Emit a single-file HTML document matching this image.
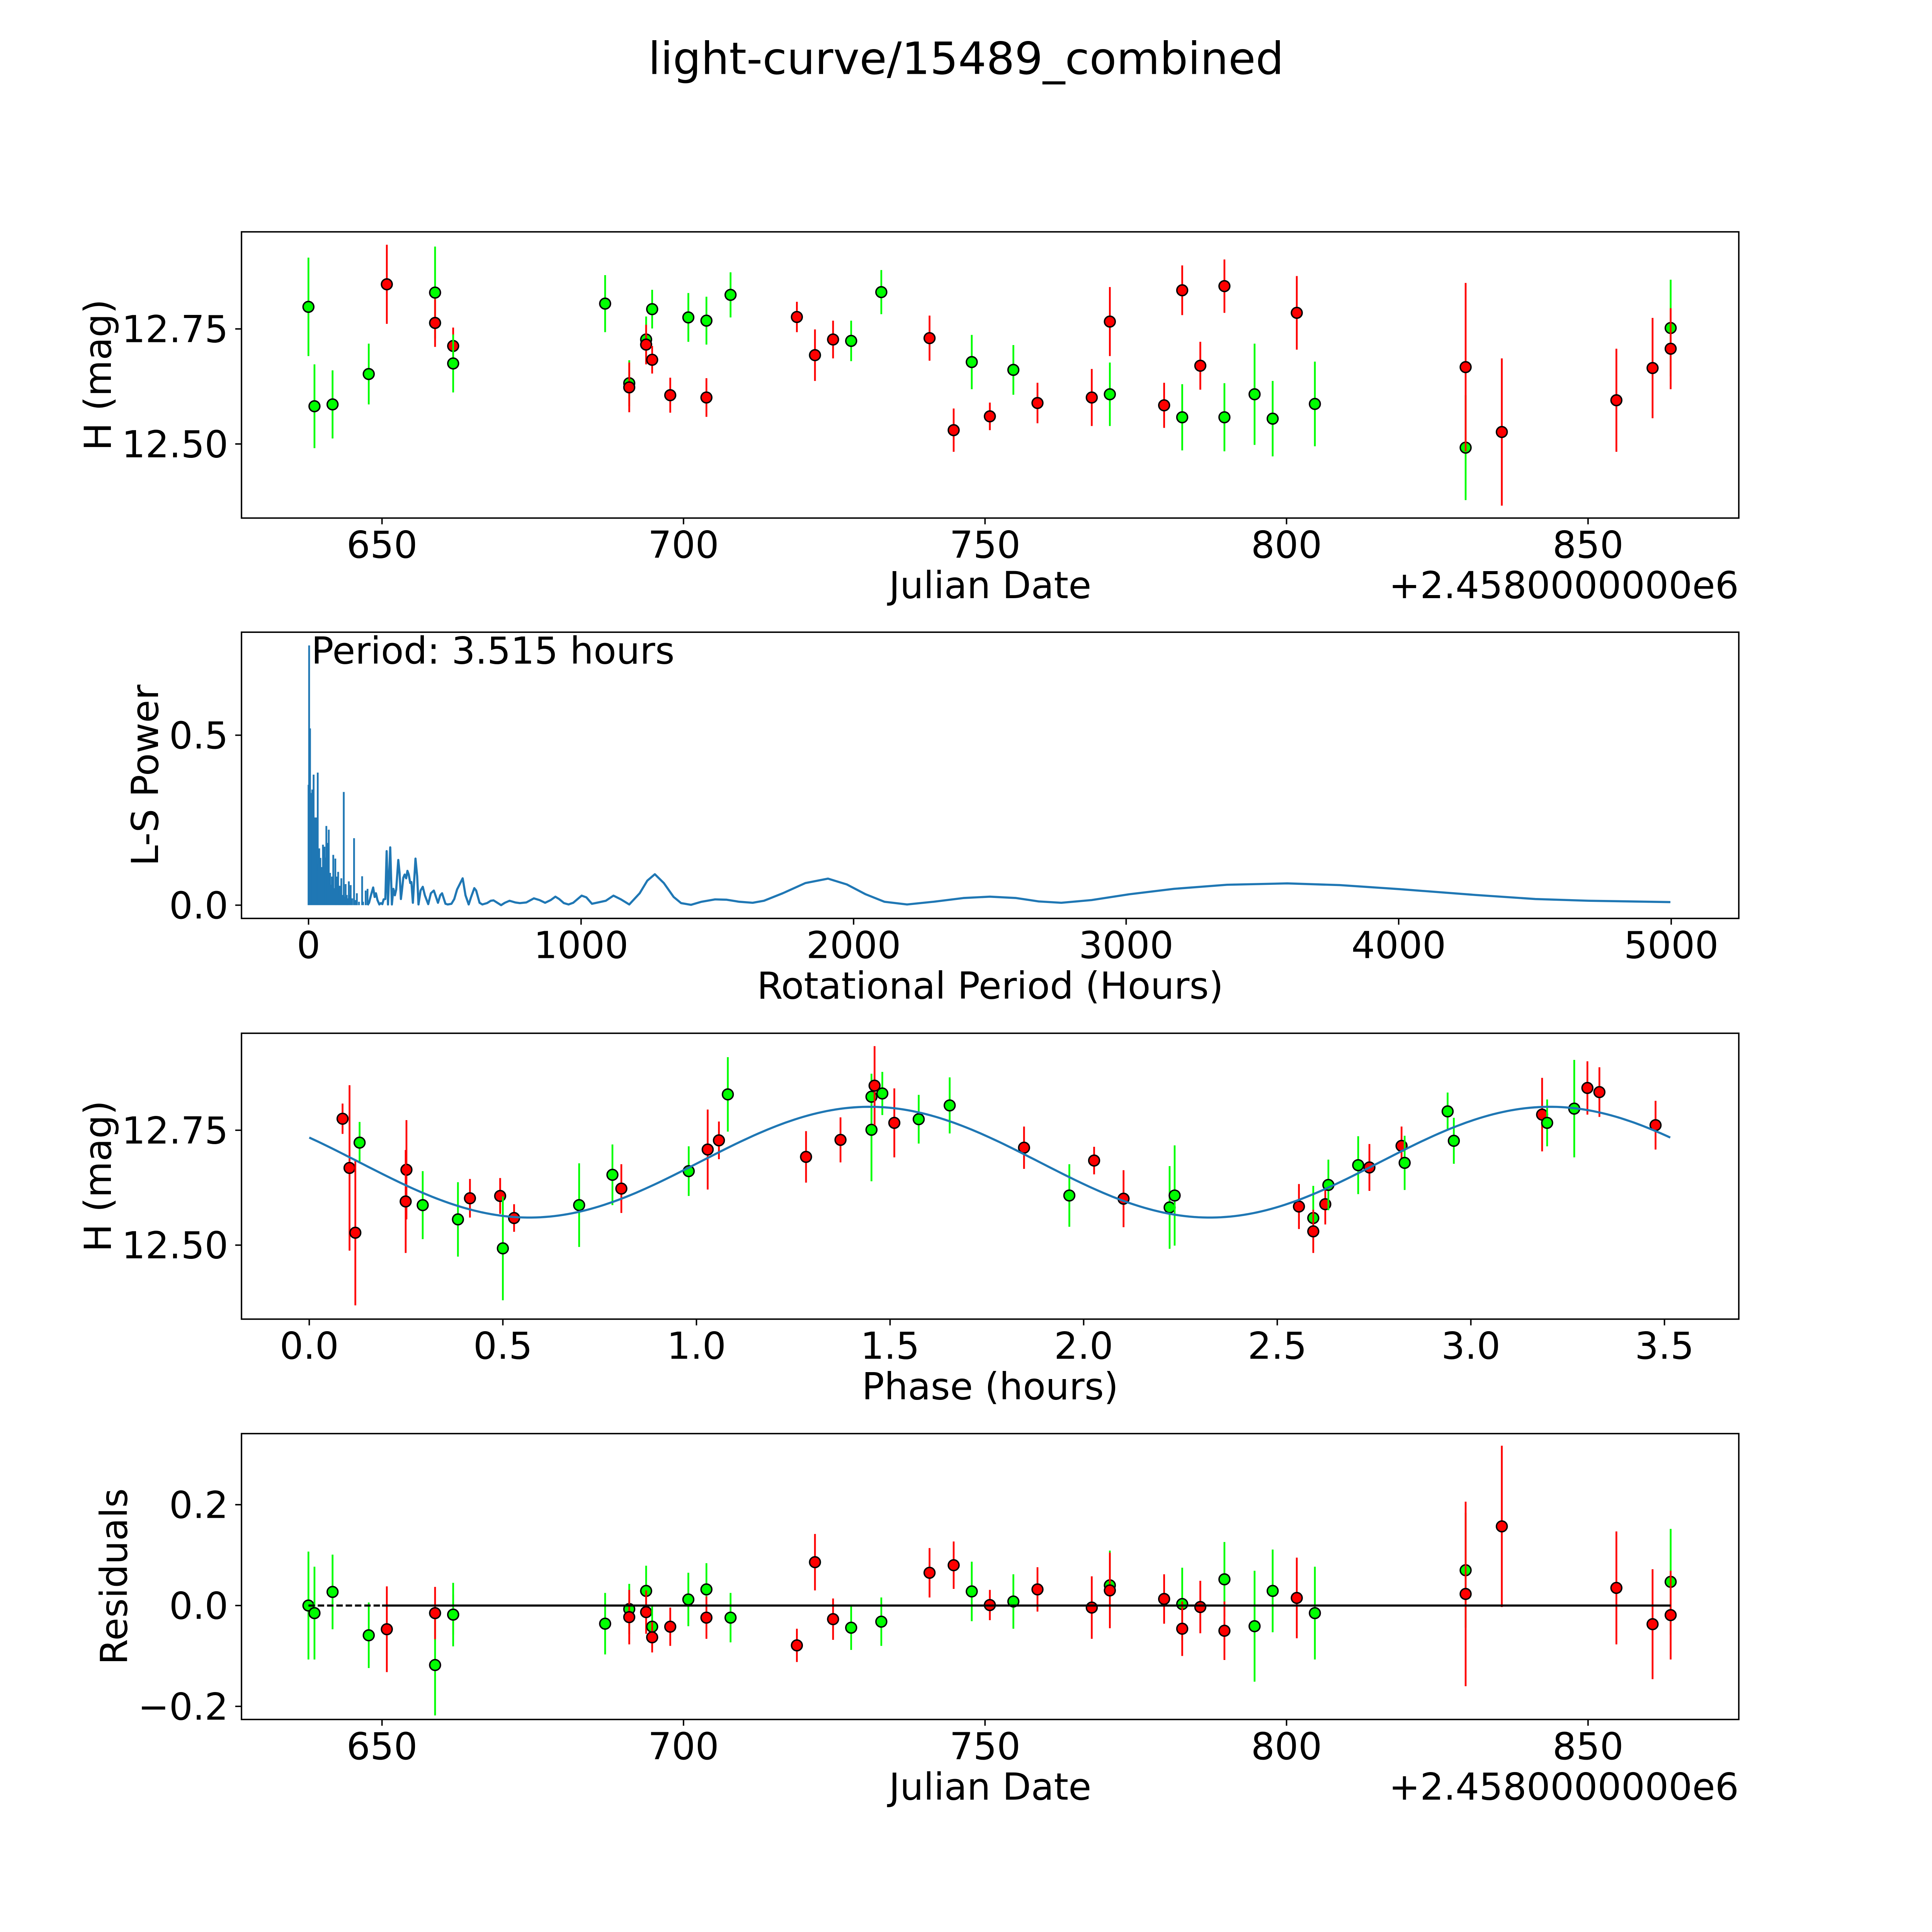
<!DOCTYPE html>
<html><head><meta charset="utf-8"><style>
html,body{margin:0;padding:0;background:#fff;overflow:hidden;width:100%;height:100%;}
svg{display:block;position:absolute;left:0;top:0;width:100vw;height:100vh;}
text{font-family:"DejaVu Sans","Liberation Sans",sans-serif;}
</style></head><body>
<svg id="fig" xmlns="http://www.w3.org/2000/svg" viewBox="0 0 5400 5400" preserveAspectRatio="none">
<rect width="5400" height="5400" fill="#fff"/>
<text x="2700" y="207" font-size="124" text-anchor="middle">light-curve/15489_combined</text>
</svg>
<script>
// ---- Panel 1: light curve ----
const lcJD = [637.8,638.8,641.8,650.8,647.8,658.8,658.8,661.8,661.8,687.0,691.0,691.0,693.8,693.8,694.8,694.8,697.8,700.8,703.8,703.8,707.8,718.8,721.8,724.8,727.8,732.8,740.8,744.8,747.8,750.8,754.7,758.7,767.7,770.7,770.7,779.7,782.7,782.7,785.7,789.7,789.7,794.7,797.7,801.7,804.7,829.7,829.7,835.7,854.7,860.7,863.7,863.7];
const lcMag = [12.798,12.582,12.586,12.847,12.652,12.829,12.763,12.713,12.675,12.805,12.632,12.623,12.727,12.716,12.793,12.683,12.606,12.775,12.768,12.601,12.824,12.776,12.693,12.727,12.724,12.830,12.730,12.530,12.678,12.560,12.661,12.589,12.601,12.608,12.766,12.584,12.558,12.834,12.670,12.558,12.843,12.608,12.555,12.785,12.587,12.492,12.667,12.526,12.595,12.665,12.752,12.707];
const lcErr = [.107,.091,.074,.086,.066,.10,.052,.04,.063,.062,.05,.054,.05,.043,.042,.03,.038,.053,.052,.042,.049,.033,.056,.041,.044,.048,.049,.047,.059,.03,.054,.044,.062,.069,.075,.049,.072,.054,.052,.074,.058,.11,.082,.08,.092,.114,.183,.16,.112,.109,.105,.088];
const lcBand = ['g','g','g','r','g','g','r','r','g','g','g','r','g','r','g','r','r','g','g','r','g','r','r','r','g','g','r','r','g','r','g','r','r','g','r','r','g','r','r','g','r','g','g','r','g','g','r','r','r','r','g','r'];
const jdTicks = [650,700,750,800,850];
const magTicks = [12.50,12.75];
const magTickLabels = ['12.50','12.75'];

// ---- Panel 2: periodogram ----
const spikePeriod = [0,2.1,5.5,10.3,13.7,18.6,22.7,28.2,33.7,39.2,43.3,48.8,52.9,58.4,65.3,70.8,74.2,79.0,85.9,90.7,98.3,103.8,108.6,114.1,120.3,129.2,136.1,147.8,154.6,167.0,177.3,196.6,209.6,216.5,
 1,3,4,7,8.5,12,15,16.5,20,21.5,25,26.5,30,31.5,35,37,41,46,51,55,57,61,63,67,69,73,77,82,88,94,101,106,112,118,125,133,140,144,151,160,172,185,200];
const spikePower = [.354,.764,.52,.33,.34,.384,.258,.258,.39,.167,.139,.112,.178,.172,.233,.183,.222,.095,.084,.148,.137,.084,.098,.057,.079,.333,.062,.07,.059,.197,.035,.085,.043,.048,
 .30,.28,.35,.30,.27,.25,.28,.22,.25,.2,.2,.24,.2,.22,.15,.12,.1,.09,.1,.08,.12,.1,.14,.1,.13,.09,.07,.06,.08,.05,.04,.05,.03,.04,.03,.025,.03,.02,.03,.02,.015,.01,.01];
const lsPeriod = [222.0,228.9,237.1,242.6,247.4,252.9,259.8,265.3,270.8,275.6,281.8,286.6,291.4,299.7,305.8,311.3,316.8,321.6,329.2,334.0,338.8,342.3,347.8,352.6,358.1,362.9,367.7,373.2,377.3,382.8,392.4,398.6,403.4,411.0,419.2,426.8,439.2,448.8,459.8,474.9,483.2,490.0,502.4,510.7,524.4,534.7,545.0,565.6,575.9,587.6,596.6,608.2,615.1,627.5,637.8,655.0,668.7,679.0,692.8,706.5,720.3,737.5,758.1,775.3,799.3,826.8,847.4,868.0,888.7,905.8,919.6,936.8,954.0,971.1,1002.1,1019.2,1039.9,1091,1118.8,1146.4,1176.8,1215,1243,1270.7,1303.8,1339.7,1367,1403.3,1442,1491.6,1533,1580,1629.7,1671,1740,1823,1906,1975,2044,2113,2196,2293,2403,2500,2596,2679,2762,2873,3011,3176,3370,3591,3784,4005,4281,4502,4696,4997];
const lsPower = [.007,.029,.052,.024,.035,.015,.002,.006,.003,.017,.018,.159,.002,.17,.002,.048,.029,.046,.133,.095,.018,.04,.081,.09,.079,.101,.09,.065,.068,.007,.137,.085,.002,.043,.054,.029,.003,.035,.043,.007,.029,.035,.004,.002,.004,.018,.046,.079,.029,.002,.024,.05,.043,.007,.002,.006,.013,.014,.007,.0,.007,.013,.008,.006,.008,.02,.015,.007,.015,.025,.018,.006,.002,.007,.028,.023,.004,.013,.028,.017,.002,.035,.072,.091,.065,.024,.006,.001,.01,.017,.016,.01,.007,.013,.035,.065,.078,.061,.032,.01,.002,.01,.021,.025,.021,.011,.007,.015,.032,.048,.06,.064,.059,.047,.03,.018,.013,.009];
const periodTicks = [0,1000,2000,3000,4000,5000];
const powerTicks = [0.0,0.5];
const powerTickLabels = ['0.0','0.5'];
const periodText = 'Period: 3.515 hours';

// ---- Panel 3: phased ----
const phPhase = [.086,.104,.130,.119,.251,.249,.293,.384,.415,.493,.500,.529,.697,.783,.806,.980,1.029,1.058,1.081,1.283,1.372,1.452,1.452,1.460,1.480,1.511,1.574,1.654,1.846,1.963,2.027,2.103,2.222,2.235,2.556,2.593,2.593,2.624,2.632,2.709,2.738,2.821,2.829,2.940,2.956,3.184,3.197,3.267,3.301,3.332,3.477];
const phMag = [12.775,12.668,12.723,12.527,12.664,12.595,12.587,12.556,12.602,12.607,12.493,12.559,12.587,12.653,12.623,12.661,12.708,12.728,12.828,12.692,12.729,12.751,12.823,12.847,12.830,12.766,12.774,12.804,12.712,12.608,12.684,12.601,12.582,12.608,12.584,12.559,12.530,12.589,12.631,12.674,12.669,12.716,12.679,12.791,12.727,12.784,12.766,12.797,12.842,12.833,12.761];
const phErr = [.033,.18,.045,.158,.108,.112,.074,.081,.042,.039,.113,.03,.091,.066,.053,.054,.087,.041,.081,.056,.049,.112,.05,.086,.047,.075,.053,.061,.046,.068,.03,.062,.09,.109,.049,.07,.047,.044,.055,.063,.051,.042,.059,.041,.05,.08,.051,.106,.058,.054,.053];
const phBand = ['r','r','g','r','r','r','g','g','r','r','g','r','g','g','r','g','r','r','g','r','r','g','g','r','g','r','g','g','r','g','r','r','g','g','r','g','r','r','g','g','r','r','g','g','g','r','g','g','r','r','r'];
const phaseTicks = [0.0,0.5,1.0,1.5,2.0,2.5,3.0,3.5];
const phaseTickLabels = ['0.0','0.5','1.0','1.5','2.0','2.5','3.0','3.5'];
const modelMean = 12.6805, modelAmp = 0.1205, modelHalfPeriod = 1.7575, modelPeakPhase = 1.447, modelEnd = 3.515;

// ---- Panel 4: residuals ----
const resJD = lcJD.slice();
const resVal = [0,-.015,.027,-.047,-.059,-.118,-.015,-.018,-.018,-.036,-.007,-.023,.029,-.013,-.042,-.063,-.042,.012,.032,-.024,-.024,-.079,.086,-.027,-.044,-.032,.065,.080,.028,.001,.008,.032,-.004,.040,.030,.013,.003,-.046,-.003,.052,-.050,-.041,.029,.015,-.015,.070,.023,.157,.035,-.037,.047,-.019];
const resErr = [.107,.092,.074,.085,.065,.10,.052,.04,.063,.061,.05,.054,.05,.043,.042,.03,.038,.053,.052,.042,.049,.033,.056,.041,.044,.048,.049,.047,.059,.03,.054,.044,.062,.069,.075,.049,.072,.054,.052,.074,.058,.11,.082,.08,.092,.114,.183,.16,.112,.109,.105,.088];
const resBand = lcBand.slice();
const resDashX = [637.8,650.0];
const resSolidX = [650.0,863.7];
const resTicks = [-0.2,0.0,0.2];
const resTickLabels = ['\u22120.2','0.0','0.2'];

const FS=104;
const NS='http://www.w3.org/2000/svg';
const svg=document.getElementById('fig');
function el(tag,attrs,parent){const e=document.createElementNS(NS,tag);for(const k in attrs)e.setAttribute(k,attrs[k]);(parent||svg).appendChild(e);return e;}
function axis(x0,x1,px0,px1,y0,y1,py0,py1){return {sx:v=>px0+(v-x0)*(px1-px0)/(x1-x0),sy:v=>py0+(v-y0)*(py1-py0)/(y1-y0),L:px0,R:px1,T:py1,B:py0};}
const COL={g:'#00ff00',r:'#ff0000'};

function frame(ax,name){
  const g=el('g',{});
  
  
  return g;
}
function spines(ax,g){
  const r=el('rect',{x:ax.L,y:ax.T,width:ax.R-ax.L,height:ax.B-ax.T,fill:'none',stroke:'#000','stroke-width':4},g);
  
  
}
function xticks(ax,g,vals,labels){
  vals.forEach((v,i)=>{const x=ax.sx(v);
    el('line',{x1:x,x2:x,y1:ax.B,y2:ax.B+17.5,stroke:'#000','stroke-width':4},g);
    const t=el('text',{x:x,y:ax.B+111,'font-size':FS,'text-anchor':'middle'},g);
    
    
    t.textContent=labels[i];});
}
function yticks(ax,g,vals,labels){
  vals.forEach((v,i)=>{const y=ax.sy(v);
    el('line',{x1:ax.L-17.5,x2:ax.L,y1:y,y2:y,stroke:'#000','stroke-width':4},g);
    const t=el('text',{x:638,y:y+37,'font-size':FS,'text-anchor':'end'},g);
    
    
    t.textContent=labels[i];});
}
function xlabel(ax,g,txt,name){
  const t=el('text',{x:(ax.L+ax.R)/2,y:ax.B+224,'font-size':FS,'text-anchor':'middle'},g);
  
  
  t.textContent=txt;
}
function ylabel(ax,g,txt,bx,name){
  const cy=(ax.T+ax.B)/2;
  const t=el('text',{x:bx,y:cy,'font-size':FS,'text-anchor':'middle',transform:`rotate(-90 ${bx} ${cy})`},g);
  
  
  t.textContent=txt;
}
function offsetText(ax,g){
  const t=el('text',{x:ax.R,y:ax.B+224,'font-size':FS,'text-anchor':'end'},g);
  
  
  t.textContent='+2.4580000000e6';
}
function errPoints(ax,g,xs,ys,es,bs){
  xs.forEach((xv,i)=>{
    const x=ax.sx(xv),y=ax.sy(ys[i]);
    const l=el('line',{x1:x,x2:x,y1:ax.sy(ys[i]-es[i]),y2:ax.sy(ys[i]+es[i]),stroke:COL[bs[i]],'stroke-width':5},g);
    
    
    const c=el('circle',{cx:x,cy:y,r:15,fill:COL[bs[i]],stroke:'#000','stroke-width':4},g);
    
    
  });
}

// Panel 1
const ax1=axis(626.7,875.0,675,4860,12.339,12.961,1448,648);
const g1=frame(ax1,'light-curve-panel');
errPoints(ax1,g1,lcJD,lcMag,lcErr,lcBand);
spines(ax1,g1);xticks(ax1,g1,jdTicks,jdTicks.map(String));yticks(ax1,g1,magTicks,magTickLabels);
xlabel(ax1,g1,'Julian Date','x-axis-title');offsetText(ax1,g1);ylabel(ax1,g1,'H (mag)',310,'y-axis-title');

// Panel 2
const ax2=axis(-246,5248,675,4860,-0.039,0.803,2567,1767);
const g2=frame(ax2,'periodogram-panel');
spikePeriod.forEach((p,i)=>{const x=ax2.sx(p);
  const l=el('line',{x1:x,x2:x,y1:ax2.sy(0),y2:ax2.sy(spikePower[i]),stroke:'#1f77b4','stroke-width':5},g2);
  
  });
let pts=[[216.5,0]].concat(lsPeriod.map((p,i)=>[p,lsPower[i]])).map(d=>ax2.sx(d[0]).toFixed(1)+','+ax2.sy(d[1]).toFixed(1)).join(' ');
const pl=el('polyline',{points:pts,fill:'none',stroke:'#1f77b4','stroke-width':6,'stroke-linejoin':'round'},g2);


spines(ax2,g2);xticks(ax2,g2,periodTicks,periodTicks.map(String));yticks(ax2,g2,powerTicks,powerTickLabels);
xlabel(ax2,g2,'Rotational Period (Hours)','x-axis-title');ylabel(ax2,g2,'L-S Power',442,'y-axis-title');
const pt=el('text',{x:870,y:1855,'font-size':FS},g2);


pt.textContent=periodText;

// Panel 3
const ax3=axis(-0.175,3.692,675,4860,12.339,12.961,3687,2888);
const g3=frame(ax3,'phased-panel');
errPoints(ax3,g3,phPhase,phMag,phErr,phBand);
let mp=[];for(let i=0;i<=300;i++){const x=modelEnd*i/300;mp.push(ax3.sx(x).toFixed(1)+','+ax3.sy(modelMean+modelAmp*Math.cos(2*Math.PI*(x-modelPeakPhase)/modelHalfPeriod)).toFixed(1));}
const ml=el('polyline',{points:mp.join(' '),fill:'none',stroke:'#1f77b4','stroke-width':6},g3);


spines(ax3,g3);xticks(ax3,g3,phaseTicks,phaseTickLabels);yticks(ax3,g3,magTicks,magTickLabels);
xlabel(ax3,g3,'Phase (hours)','x-axis-title');ylabel(ax3,g3,'H (mag)',310,'y-axis-title');

// Panel 4
const ax4=axis(626.7,875.0,675,4860,-0.226,0.341,4806,4007);
const g4=frame(ax4,'residuals-panel');
errPoints(ax4,g4,resJD,resVal,resErr,resBand);
const dl=el('line',{x1:ax4.sx(resDashX[0]),x2:ax4.sx(resDashX[1]),y1:ax4.sy(0),y2:ax4.sy(0),stroke:'#000','stroke-width':6,'stroke-dasharray':'18 8'},g4);


const sl=el('line',{x1:ax4.sx(resSolidX[0]),x2:ax4.sx(resSolidX[1]),y1:ax4.sy(0),y2:ax4.sy(0),stroke:'#000','stroke-width':6},g4);


spines(ax4,g4);xticks(ax4,g4,jdTicks,jdTicks.map(String));yticks(ax4,g4,resTicks,resTickLabels);
xlabel(ax4,g4,'Julian Date','x-axis-title');offsetText(ax4,g4);ylabel(ax4,g4,'Residuals',355,'y-axis-title');
</script>
</body></html>
